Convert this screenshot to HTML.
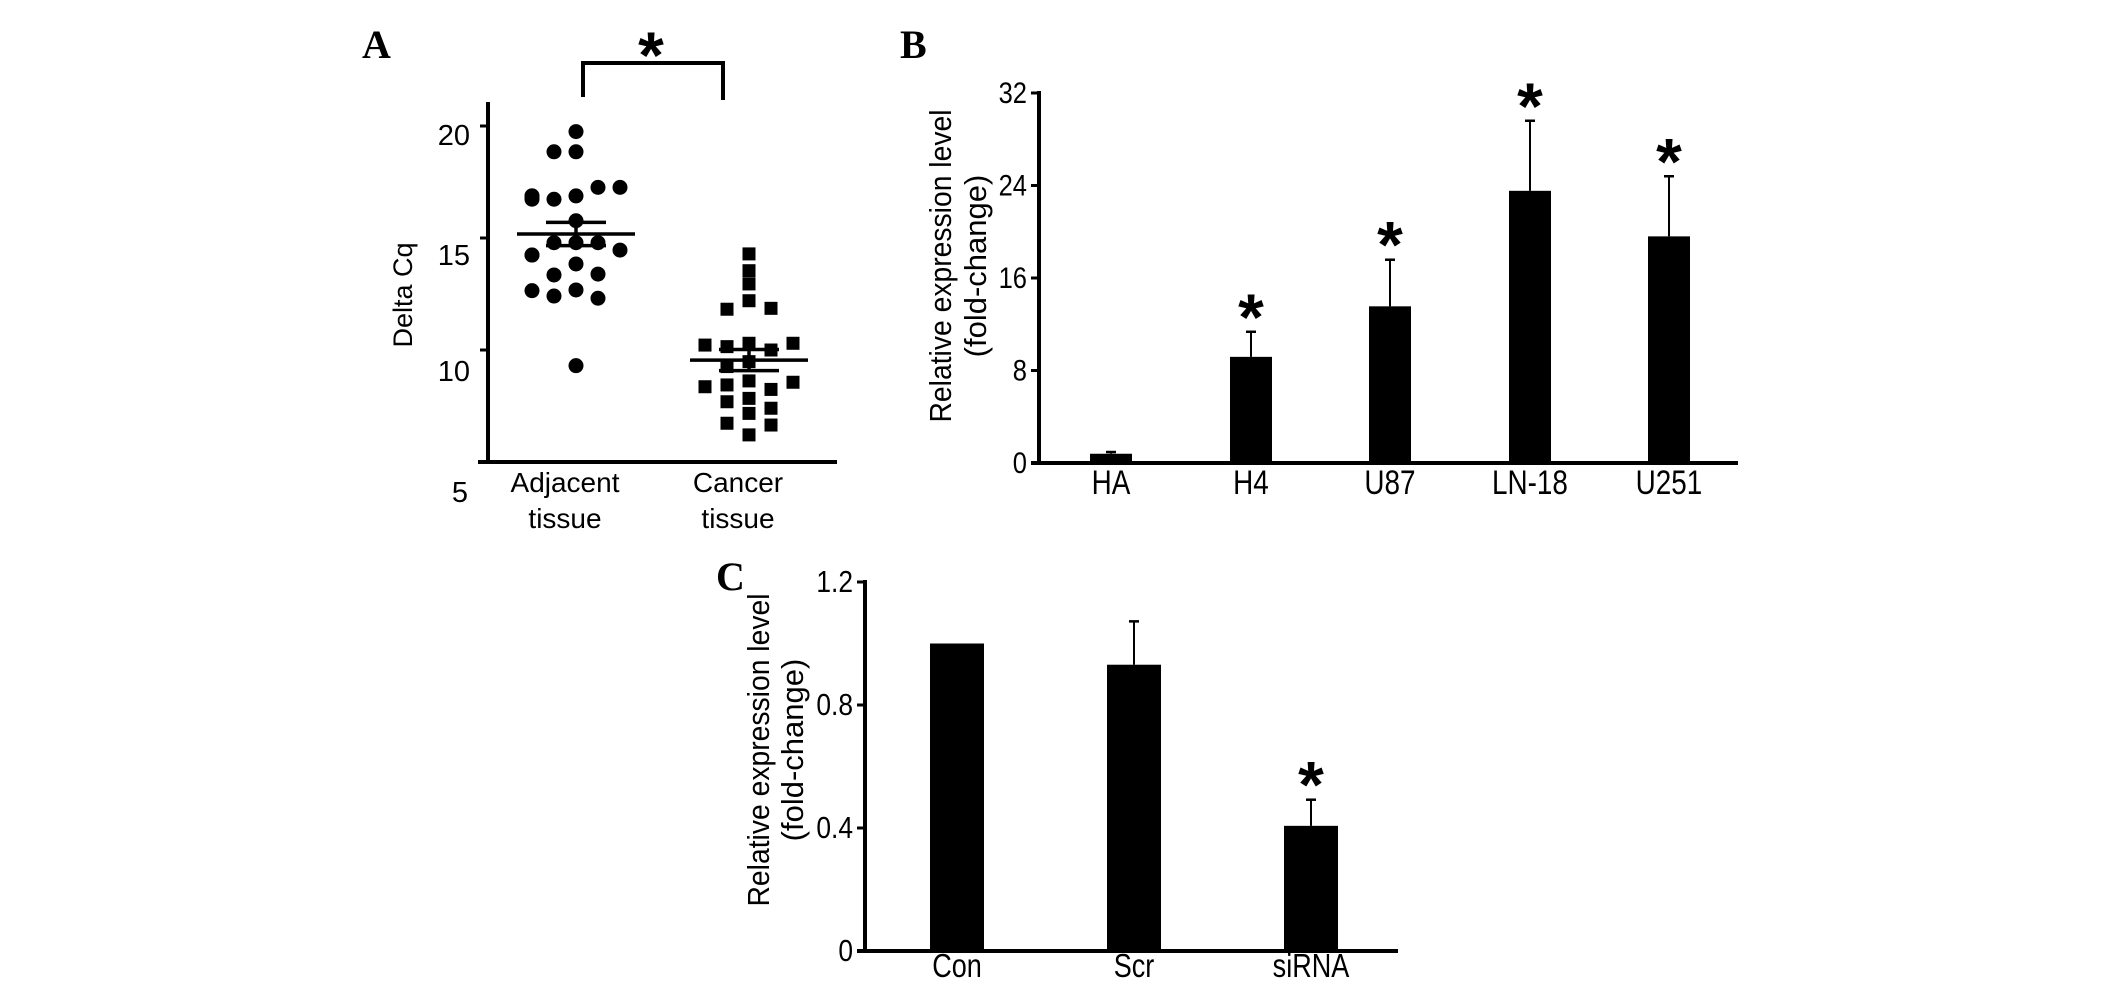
<!DOCTYPE html>
<html><head><meta charset="utf-8"><style>
html,body{margin:0;padding:0;background:#fff;}
svg{display:block;}
text{font-family:"Liberation Sans",Arial,sans-serif;fill:#000;}
.pl{font-family:"Liberation Serif",serif;font-weight:bold;font-size:40px;}
.star{font-weight:bold;font-size:66px;}
</style></head><body>
<svg id="fig" width="2126" height="982" viewBox="0 0 2126 982" xmlns="http://www.w3.org/2000/svg">
<text class="pl" x="362" y="58">A</text>
<text class="pl" x="900" y="58">B</text>
<text class="pl" x="716" y="590">C</text>
<g id="A"></g>
<g id="B"></g>
<g id="C"></g>
</svg>
<script>
// Panel A data
const aTicks = [5, 10, 15, 20];
const aCategories = ["Adjacent tissue", "Cancer tissue"];
const adjacentValues = [19.75,18.85,18.85,16.88,16.73,17.26,16.73,17.26,16.88,16.88,15.77,14.79,14.79,14.79,14.24,14.46,14.24,13.84,13.35,13.39,12.68,12.41,12.31,12.65,9.3];
const cancerValues = [14.29,13.54,12.95,12.2,11.82,11.86,10.3,10.15,10.0,10.22,10.3,9.48,9.26,8.62,8.44,8.24,8.36,8.56,7.84,7.69,7.4,7.17,6.73,6.65,6.21];
const adjacentMean = 15.18, adjacentSem = 0.52;
const cancerMean = 9.55, cancerSem = 0.47;
// Panel B data
const bCategories = ["HA","H4","U87","LN-18","U251"];
const bValues = [0.8, 9.18, 13.55, 23.54, 19.6];
const bErrors = [0.15, 2.17, 4.03, 6.06, 5.2];
const bSignificant = [false, true, true, true, true];
const bTicks = [0, 8, 16, 24, 32];
// Panel C data
const cCategories = ["Con","Scr","siRNA"];
const cValues = [1.0, 0.931, 0.407];
const cErrors = [0, 0.141, 0.085];
const cSignificant = [false, false, true];
const cTicks = [0, 0.4, 0.8, 1.2];

const NS = "http://www.w3.org/2000/svg";
function mk(parent, tag, attrs, txt){
  const e = document.createElementNS(NS, tag);
  for (const k in attrs) e.setAttribute(k, attrs[k]);
  if (txt !== undefined) e.textContent = txt;
  parent.appendChild(e);
  return e;
}

// ---------- Panel A ----------
(function(){
  const g = document.getElementById('A');
  const y = v => 462 - (v - 5) * 22.4;
  let e;
  e = mk(g,'line',{x1:488,y1:102,x2:488,y2:464,stroke:'#000','stroke-width':4});
   
  e = mk(g,'line',{x1:478,y1:462,x2:837,y2:462,stroke:'#000','stroke-width':4});
   
  const lblY = {20:145,15:265,10:381,5:502};
  aTicks.forEach(t=>{
    if (t !== 5) {
      e = mk(g,'line',{x1:480,y1:y(t),x2:488,y2:y(t),stroke:'#000','stroke-width':3});
       
    }
    e = mk(g,'text',{x:t===5?468:470,y:lblY[t],'text-anchor':'end','font-size':29},String(t));
     
  });
  e = mk(g,'text',{x:0,y:0,'font-size':27,'text-anchor':'middle',transform:'translate(412,295) rotate(-90)'},'Delta Cq');
   
  const cx = [565, 738];
  aCategories.forEach((c,i)=>{
    const parts = c.split(' ');
    e = mk(g,'text',{x:cx[i],y:492,'text-anchor':'middle','font-size':28},parts[0]);
     
    e = mk(g,'text',{x:cx[i],y:528,'text-anchor':'middle','font-size':28},parts[1]);
     
  });
  const offs = [-44,-22,0,22,44];
  function place(vals){
    const out=[]; const used=[];
    vals.forEach(v=>{
      const py=y(v); let k=0;
      const order=[2,1,3,0,4];
      for (const o of order){ if(!used.some(u=>u.o===o && Math.abs(u.py-py)<13)){k=o;break;} }
      used.push({o:k,py:py}); out.push({dx:offs[k],py:py});
    });
    return out;
  }
  place(adjacentValues).forEach(p=>{
    e = mk(g,'circle',{cx:576+p.dx,cy:p.py,r:7.5,fill:'#000'});
     
  });
  place(cancerValues).forEach(p=>{
    e = mk(g,'rect',{x:749+p.dx-6.5,y:p.py-6.5,width:13,height:13,fill:'#000'});
     
  });
  [[576,adjacentMean,adjacentSem],[749,cancerMean,cancerSem]].forEach(([c,m,s])=>{
    e = mk(g,'line',{x1:c-59,y1:y(m),x2:c+59,y2:y(m),stroke:'#000','stroke-width':3.5});
     
    e = mk(g,'line',{x1:c-30,y1:y(m+s),x2:c+30,y2:y(m+s),stroke:'#000','stroke-width':3.5});
     
    e = mk(g,'line',{x1:c-30,y1:y(m-s),x2:c+30,y2:y(m-s),stroke:'#000','stroke-width':3.5});
     
    e = mk(g,'line',{x1:c,y1:y(m+s),x2:c,y2:y(m-s),stroke:'#000','stroke-width':3.5});
     
  });
  e = mk(g,'polyline',{points:'583,97 583,63 723,63 723,100',fill:'none',stroke:'#000','stroke-width':4});
   
  e = mk(g,'text',{x:651,y:78,'text-anchor':'middle','class':'star'},'*');
   
})();

// ---------- Bar chart helper ----------
function barChart(gid, o){
  const g = document.getElementById(gid);
  const y = v => o.base - v / o.max * (o.base - o.top);
  let e;
  e = mk(g,'line',{x1:o.ax,y1:o.top-2,x2:o.ax,y2:o.base+2,stroke:'#000','stroke-width':4});
   
  e = mk(g,'line',{x1:o.ax-8,y1:o.base,x2:o.xend,y2:o.base,stroke:'#000','stroke-width':4});
   
  o.ticks.forEach(t=>{
    e = mk(g,'line',{x1:o.ax-8,y1:y(t),x2:o.ax,y2:y(t),stroke:'#000','stroke-width':3});
     
    e = mk(g,'text',{x:o.ax-12,y:y(t)+10,'text-anchor':'end','font-size':o.tfs,transform:`translate(${o.ax-12},0) scale(0.85,1) translate(${-(o.ax-12)},0)`},String(t));
     
  });
  o.vals.forEach((v,i)=>{
    const cx = o.cx[i];
    e = mk(g,'rect',{x:cx-o.bw/2,y:y(v),width:o.bw,height:o.base-y(v),fill:'#000'});
     
    if (o.errs[i] > 0) {
      const et = y(v + o.errs[i]);
      e = mk(g,'line',{x1:cx,y1:y(v),x2:cx,y2:et,stroke:'#000','stroke-width':2});
       
      e = mk(g,'line',{x1:cx-5,y1:et,x2:cx+5,y2:et,stroke:'#000','stroke-width':2.5});
       
      if (o.sig[i]) {
        e = mk(g,'text',{x:cx,y:et+8,'text-anchor':'middle','class':'star'},'*');
         
      }
    }
    e = mk(g,'text',{x:cx,y:o.ly,'text-anchor':'middle','font-size':o.lfs,transform:`translate(${cx},0) scale(0.82,1) translate(${-cx},0)`},o.cats[i]);
     
  });
  e = mk(g,'text',{x:0,y:0,'font-size':31,'text-anchor':'middle',textLength:313,lengthAdjust:'spacingAndGlyphs',transform:`translate(${o.l1x},${o.lcy}) rotate(-90)`},'Relative expression level');
   
  e = mk(g,'text',{x:0,y:0,'font-size':31,'text-anchor':'middle',transform:`translate(${o.l2x},${o.lcy}) rotate(-90)`},'(fold-change)');
   
}
barChart('B',{ax:1039,base:463,top:93,max:32,xend:1738,ticks:bTicks,tfs:30,vals:bValues,errs:bErrors,sig:bSignificant,
  cats:bCategories,cx:[1111,1251,1390,1530,1669],bw:42,ly:494,lfs:34,l1x:951,l2x:986,lcy:266});
barChart('C',{ax:865,base:951,top:582,max:1.2,xend:1398,ticks:cTicks,tfs:31,vals:cValues,errs:cErrors,sig:cSignificant,
  cats:cCategories,cx:[957,1134,1311],bw:54,ly:977,lfs:33,l1x:769,l2x:803,lcy:750});
</script>
</body></html>
